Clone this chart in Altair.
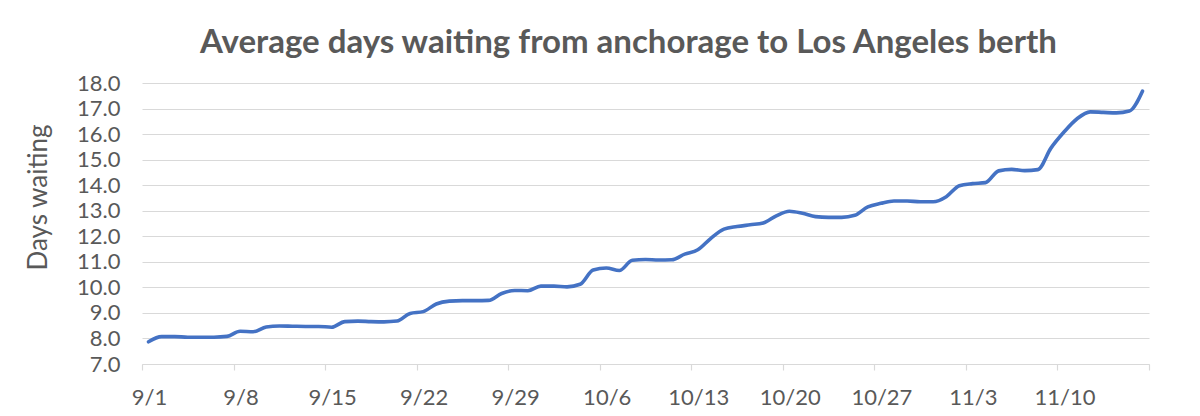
import altair as alt
import pandas as pd

# ---- data ----
dates = [d.strftime("%Y-%m-%d") for d in pd.date_range("2021-09-01", "2021-11-16", freq="D")]
days_waiting = [
    7.87, 8.07, 8.07, 8.05, 8.05, 8.05, 8.08,
    8.28, 8.26, 8.45, 8.49, 8.48, 8.47, 8.47,
    8.44, 8.66, 8.68, 8.66, 8.65, 8.68, 8.98,
    9.05, 9.35, 9.46, 9.48, 9.48, 9.49, 9.76,
    9.88, 9.87, 10.05, 10.05, 10.02, 10.12, 10.68,
    10.76, 10.66, 11.06, 11.09, 11.07, 11.08, 11.30,
    11.47, 11.92, 12.28, 12.38, 12.45, 12.52, 12.80,
    12.98, 12.90, 12.77, 12.74, 12.74, 12.82, 13.15,
    13.29, 13.38, 13.38, 13.35, 13.35, 13.55, 13.98,
    14.06, 14.10, 14.56, 14.62, 14.57, 14.61, 15.45,
    16.08, 16.60, 16.87, 16.85, 16.83, 16.90, 17.68,
]
y_ticks = [7, 8, 9, 10, 11, 12, 13, 14, 15, 16, 17, 18]
title_text = "Average days waiting from anchorage to Los Angeles berth"
y_title = "Days waiting"

df = pd.DataFrame({"date": dates, "days": days_waiting})

DAY = 86400000
HALF = DAY // 2
start_ms = int(pd.Timestamp("2021-08-31 12:00", tz="UTC").value // 10**6)
end_ms = start_ms + 77 * DAY
tick_ms = [start_ms + 7 * DAY * k for k in range(12)]

GREY = "#595959"
GRID = "#d9d9d9"
FONT = "Lato"

label_expr = (
    f"time(datum.value) >= {end_ms - 1000} ? '' : "
    f"utcFormat(time(datum.value) + {HALF}, '%-m/%-d')"
)

chart = (
    alt.Chart(df)
    .mark_line(color="#4472C4", strokeWidth=3.6, interpolate="monotone", strokeCap="round")
    .encode(
        x=alt.X(
            "date:T",
            scale=alt.Scale(type="utc", domain=[start_ms, end_ms]),
            axis=alt.Axis(
                values=tick_ms,
                labelExpr=label_expr,
                title=None,
                grid=False,
                domainColor=GRID,
                domainWidth=1.2,
                tickColor=GRID,
                tickWidth=1.2,
                tickSize=6,
                labelOffset=7,
                labelPadding=17,
                labelFont=FONT,
                labelFontSize=22,
                labelColor=GREY,
                labelFlush=False,
                labelOverlap=False,
            ),
        ),
        y=alt.Y(
            "days:Q",
            scale=alt.Scale(domain=[7, 18], nice=False, zero=False),
            axis=alt.Axis(
                values=y_ticks,
                format=".1f",
                title=y_title,
                domain=False,
                ticks=False,
                gridColor=GRID,
                gridWidth=1.2,
                labelPadding=22,
                labelFont=FONT,
                labelFontSize=22,
                labelColor=GREY,
                titleFont=FONT,
                titleFontSize=26,
                titleFontWeight="normal",
                titleColor=GREY,
                titleAngle=270,
                titleAlign="center",
                titleBaseline="middle",
                titleX=-104,
                titleY=114,
            ),
        ),
    )
    .properties(
        width=1007,
        height=281,
        autosize=alt.AutoSizeParams(type="none"),
        padding={"left": 134, "top": 75, "right": 43, "bottom": 44},
        background="white",
        title=alt.TitleParams(
            text=title_text,
            font=FONT,
            fontSize=33,
            fontWeight="bold",
            color=GREY,
            anchor="middle",
            frame="group",
            dx=-17,
            offset=12,
        ),
    )
    .configure_view(stroke=None)
)

chart.save("out.html", embed_options={"renderer": "svg", "actions": False})
